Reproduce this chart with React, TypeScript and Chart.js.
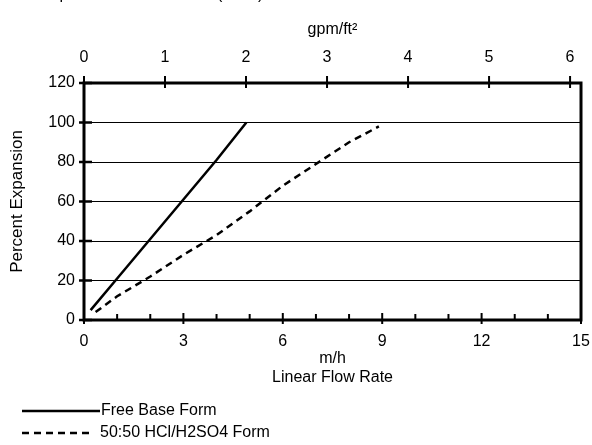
import { useEffect, useRef } from "react";
import { Chart, registerables } from "chart.js";

Chart.register(...registerables);

const chartTitle = "Bed Expansion vs Flow Rate (25°C)";
const seriesLabels = ["Free Base Form", "50:50 HCl/H2SO4 Form"];
const freeBaseX = [0.2, 1, 2, 3, 4, 4.9];
const freeBaseY = [5, 21, 41, 61, 81, 100];
const mixedX = [0.35, 1, 2, 3, 4, 4.5, 5, 6, 7, 8, 8.9];
const mixedY = [4, 12, 22, 33, 43, 49, 55, 68, 79, 90, 98];
const xMinorTicks = [0, 1, 2, 3, 4, 5, 6, 7, 8, 9, 10, 11, 12, 13, 14, 15];
const xMajorStep = 3;
const yTicks = [0, 20, 40, 60, 80, 100, 120];
const gpmTicks = [0, 1, 2, 3, 4, 5, 6];
const mhPerGpm = 2.445;
const xMax = 15;
const yMax = 120;

const FONT = "'Liberation Sans', Arial, Helvetica, sans-serif";

const toPoints = (xs: number[], ys: number[]) => xs.map((x, i) => ({ x, y: ys[i] }));

const zeroPad = (s: any) => {
  s.paddingLeft = 0;
  s.paddingRight = 0;
  s.paddingTop = 0;
  s.paddingBottom = 0;
};

const framePlugin = {
  id: "frameAndTicks",
  afterDraw(chart: any) {
    const { ctx, chartArea: a, scales } = chart;
    const x = scales.x;
    const x2 = scales.x2;
    const y = scales.y;
    ctx.save();
    ctx.strokeStyle = "#000";
    ctx.lineCap = "butt";
    ctx.lineWidth = 3;
    ctx.strokeRect(a.left, a.top, a.right - a.left, a.bottom - a.top);
    ctx.lineWidth = 2;
    xMinorTicks.forEach((v) => {
      const px = x.getPixelForValue(v);
      const major = v % xMajorStep === 0;
      ctx.beginPath();
      ctx.moveTo(px, a.bottom - (major ? 7 : 6));
      ctx.lineTo(px, a.bottom + (major ? 4 : 0));
      ctx.stroke();
    });
    gpmTicks.forEach((v) => {
      const px = x2.getPixelForValue(v);
      ctx.beginPath();
      ctx.moveTo(px, a.top - 7);
      ctx.lineTo(px, a.top + 5);
      ctx.stroke();
    });
    ctx.lineWidth = 2.5;
    yTicks.forEach((v) => {
      const py = y.getPixelForValue(v);
      ctx.beginPath();
      ctx.moveTo(a.left - 5, py);
      ctx.lineTo(a.left + 8, py);
      ctx.stroke();
    });
    ctx.fillStyle = "#000";
    ctx.font = `16px ${FONT}`;
    ctx.textBaseline = "alphabetic";
    ctx.textAlign = "left";
    ctx.fillText(chartTitle, 8, -1.5);
    const ds = chart.data.datasets;
    const rows = [411, 433];
    const ends = [100, 92];
    ds.forEach((d: any, i: number) => {
      const yy = rows[i];
      ctx.beginPath();
      ctx.lineWidth = 2.5;
      ctx.setLineDash(d.borderDash || []);
      ctx.moveTo(22, yy);
      ctx.lineTo(ends[i], yy);
      ctx.stroke();
      ctx.setLineDash([]);
      ctx.textBaseline = "middle";
      ctx.fillText(d.label, ends[i] + (i === 0 ? 1 : 8), yy);
    });
    ctx.restore();
  },
};

export default function App() {
  const ref = useRef<HTMLCanvasElement | null>(null);
  useEffect(() => {
    if (!ref.current) return;
    const tickFont = { family: FONT, size: 16 };
    const chart = new Chart(ref.current, {
      type: "line",
      data: {
        datasets: [
          {
            label: seriesLabels[0],
            data: toPoints(freeBaseX, freeBaseY),
            borderColor: "#000",
            borderWidth: 2.5,
            pointRadius: 0,
            tension: 0,
            xAxisID: "x",
            yAxisID: "y",
          },
          {
            label: seriesLabels[1],
            data: toPoints(mixedX, mixedY),
            borderColor: "#000",
            borderWidth: 2.5,
            borderDash: [7, 5],
            pointRadius: 0,
            tension: 0,
            xAxisID: "x",
            yAxisID: "y",
          },
        ],
      },
      options: {
        animation: false,
        responsive: false,
        maintainAspectRatio: false,
        layout: { padding: { left: 0, right: 11, top: 0, bottom: 0 } },
        plugins: { legend: { display: false }, tooltip: { enabled: false }, title: { display: false } },
        scales: {
          x: {
            type: "linear",
            position: "bottom",
            min: 0,
            max: xMax,
            ticks: { stepSize: xMajorStep, font: tickFont, color: "#000", padding: 12, maxRotation: 0 },
            grid: { display: false, drawTicks: false },
            border: { display: false },
            title: {
              display: true,
              text: ["m/h", "Linear Flow Rate"],
              font: tickFont,
              color: "#000",
              padding: { top: 0, bottom: 58 },
            },
            afterFit: (s: any) => {
              s.height = 125;
              zeroPad(s);
            },
          },
          x2: {
            type: "linear",
            position: "top",
            min: 0,
            max: xMax / mhPerGpm,
            afterBuildTicks: (s: any) => {
              s.ticks = gpmTicks.map((v) => ({ value: v }));
            },
            ticks: { font: tickFont, color: "#000", padding: 16, maxRotation: 0 },
            grid: { display: false, drawTicks: false },
            border: { display: false },
            title: {
              display: true,
              text: "gpm/ft²",
              font: tickFont,
              color: "#000",
              padding: { top: 20, bottom: 0 },
            },
            afterFit: (s: any) => {
              s.height = 83;
              zeroPad(s);
            },
          },
          y: {
            type: "linear",
            position: "left",
            min: 0,
            max: yMax,
            ticks: { stepSize: 20, font: tickFont, color: "#000", padding: 9 },
            grid: { color: "#000", lineWidth: 1, drawTicks: false },
            border: { display: false },
            title: {
              display: true,
              text: "Percent Expansion",
              font: { family: FONT, size: 17 },
              color: "#000",
              padding: { top: 7, bottom: 0 },
            },
            afterFit: (s: any) => {
              s.width = 84;
              zeroPad(s);
            },
          },
        },
      },
      plugins: [framePlugin],
    });
    return () => chart.destroy();
  }, []);
  return (
    <div style={{ position: "fixed", left: 0, top: 0, width: 592, height: 445, background: "#fff" }}>
      <canvas ref={ref} width={592} height={445} style={{ display: "block", width: 592, height: 445 }} />
    </div>
  );
}
